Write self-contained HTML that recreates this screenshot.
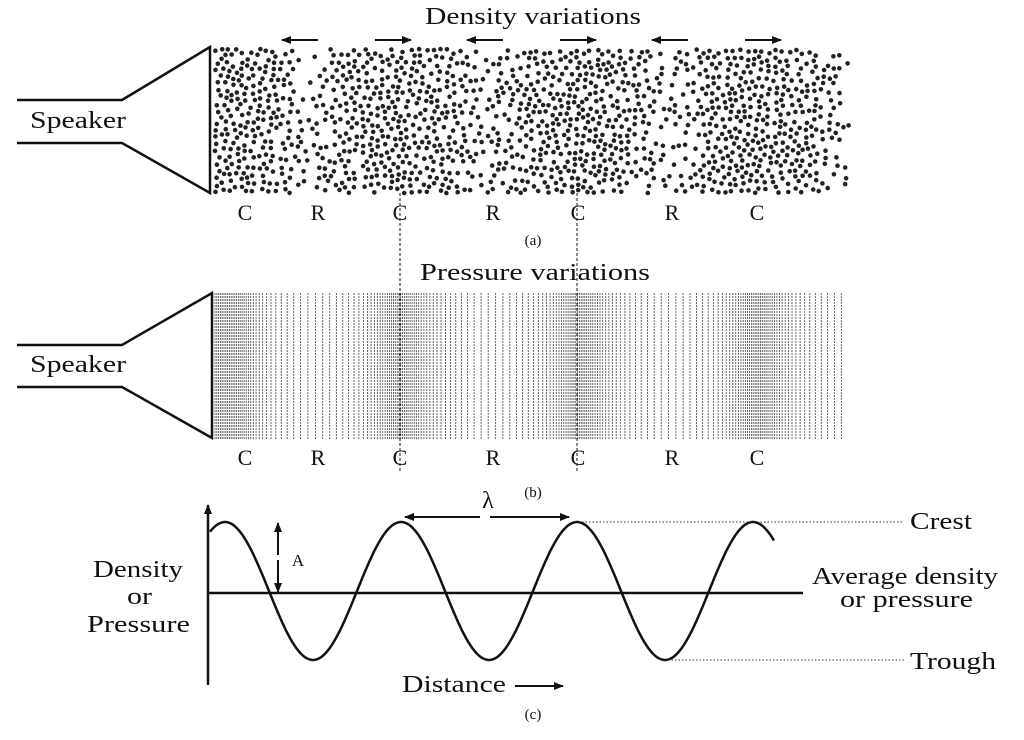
<!DOCTYPE html>
<html><head><meta charset="utf-8"><style>
html,body{margin:0;padding:0;background:#fff;}
svg text{font-family:"Liberation Serif",serif;fill:#111;}
</style></head><body>
<svg id="s" width="1024" height="735" viewBox="0 0 1024 735" xmlns="http://www.w3.org/2000/svg">
<defs>
<marker id="ah" markerWidth="10" markerHeight="8" refX="9" refY="4" orient="auto" markerUnits="userSpaceOnUse">
<path d="M0,0 L10,4 L0,8 z" fill="#111"/></marker>
</defs>
<g stroke="#111" stroke-width="2.5" fill="none">
<polyline points="17,100 122,100 210,47 210,193 122,143 17,143"/>
<polyline points="17,345 122,345 212,293 212,438 122,387 17,387"/>
</g>
<g id="dots" fill="#222"></g>
<g id="lines" stroke="#555" stroke-width="0.9" stroke-dasharray="2,1"></g>
<text x="425" y="24" font-size="24" textLength="216" lengthAdjust="spacingAndGlyphs">Density variations</text>
<g stroke="#111" stroke-width="2">
<line x1="318" y1="40" x2="282" y2="40" marker-end="url(#ah)"/>
<line x1="375" y1="40" x2="411" y2="40" marker-end="url(#ah)"/>
<line x1="503" y1="40" x2="467" y2="40" marker-end="url(#ah)"/>
<line x1="560" y1="40" x2="596" y2="40" marker-end="url(#ah)"/>
<line x1="688" y1="40" x2="652" y2="40" marker-end="url(#ah)"/>
<line x1="745" y1="40" x2="781" y2="40" marker-end="url(#ah)"/>
</g>
<text x="30" y="128" font-size="24" textLength="96" lengthAdjust="spacingAndGlyphs">Speaker</text>
<text x="30" y="372" font-size="24" textLength="96" lengthAdjust="spacingAndGlyphs">Speaker</text>
<g font-size="22" text-anchor="middle">
<text x="245" y="220">C</text><text x="318" y="220">R</text><text x="400" y="220">C</text><text x="493" y="220">R</text><text x="578" y="220">C</text><text x="672" y="220">R</text><text x="757" y="220">C</text>
<text x="245" y="465">C</text><text x="318" y="465">R</text><text x="400" y="465">C</text><text x="493" y="465">R</text><text x="578" y="465">C</text><text x="672" y="465">R</text><text x="757" y="465">C</text>
</g>
<text x="533" y="245" font-size="15" text-anchor="middle">(a)</text>
<text x="420" y="280" font-size="24" textLength="230" lengthAdjust="spacingAndGlyphs">Pressure variations</text>
<text x="533" y="497" font-size="15" text-anchor="middle">(b)</text>
<g stroke="#111" stroke-width="1" stroke-dasharray="3,2">
<line x1="400" y1="193" x2="400" y2="472"/>
<line x1="577" y1="193" x2="577" y2="472"/>
</g>
<g stroke="#111" stroke-width="2.5" fill="none">
<line x1="208" y1="685" x2="208" y2="505" marker-end="url(#ah)"/>
<line x1="208" y1="593" x2="803" y2="593"/>
<path id="wave"/>
</g>
<g stroke="#111" stroke-width="2">
<line x1="480" y1="517" x2="405" y2="517" marker-end="url(#ah)"/>
<line x1="490" y1="517" x2="569" y2="517" marker-end="url(#ah)"/>
<line x1="278" y1="555" x2="278" y2="523" marker-end="url(#ah)"/>
<line x1="278" y1="560" x2="278" y2="592" marker-end="url(#ah)"/>
<line x1="515" y1="686" x2="563" y2="686" marker-end="url(#ah)"/>
</g>
<g stroke="#333" stroke-width="1" stroke-dasharray="1.5,2">
<line x1="575" y1="522" x2="903" y2="522"/>
<line x1="668" y1="660" x2="905" y2="660"/>
</g>
<text x="488" y="508" font-size="24" text-anchor="middle">λ</text>
<text x="298" y="566" font-size="17" text-anchor="middle">A</text>
<text x="910" y="529" font-size="24" textLength="62" lengthAdjust="spacingAndGlyphs">Crest</text>
<text x="910" y="669" font-size="24" textLength="86" lengthAdjust="spacingAndGlyphs">Trough</text>
<text x="812" y="584" font-size="24" textLength="186" lengthAdjust="spacingAndGlyphs">Average density</text>
<text x="840" y="607" font-size="24" textLength="133" lengthAdjust="spacingAndGlyphs">or pressure</text>
<text x="93" y="577" font-size="24" textLength="90" lengthAdjust="spacingAndGlyphs">Density</text>
<text x="127" y="604" font-size="24" textLength="25" lengthAdjust="spacingAndGlyphs">or</text>
<text x="87" y="632" font-size="24" textLength="103" lengthAdjust="spacingAndGlyphs">Pressure</text>
<text x="402" y="692" font-size="24" textLength="104" lengthAdjust="spacingAndGlyphs">Distance</text>
<text x="533" y="719" font-size="15" text-anchor="middle">(c)</text>
</svg>
<script>
(function(){
var NS="http://www.w3.org/2000/svg";
var seed=12345;function rnd(){seed=(seed*1103515245+12345)&0x7fffffff;return seed/0x7fffffff;}
var cs=[235,400,578,757];
function dm(x){var m=0;for(var i=0;i<cs.length;i++){var s=(i==0)?30:38;var g=Math.exp(-Math.pow(x-cs[i],2)/(2*s*s));if(i==0&&x<cs[0])g=1;if(g>m)m=g;}return m;}
function dens(x){return 0.03+0.97*dm(x);}
var pts=[],dg=document.getElementById('dots');
for(var k=0;k<14000;k++){
 var x=215+rnd()*635,y=49+rnd()*144;
 if(rnd()>dens(x))continue;
 var ok=true;for(var j=pts.length-1;j>=0;j--){var dx=pts[j][0]-x,dy=pts[j][1]-y;if(dx*dx+dy*dy<28){ok=false;break;}}
 if(!ok)continue;pts.push([x,y]);
 var c=document.createElementNS(NS,'circle');c.setAttribute('cx',x.toFixed(1));c.setAttribute('cy',y.toFixed(1));c.setAttribute('r','2.3');dg.appendChild(c);
}
var lg=document.getElementById('lines');var x=215;
while(x<844){var l=document.createElementNS(NS,'line');l.setAttribute('x1',x.toFixed(1));l.setAttribute('x2',x.toFixed(1));l.setAttribute('y1','293');l.setAttribute('y2','440');lg.appendChild(l);
 x+=1.8+6*(1-dm(x));}
var d="",P=176,x0=225;
for(var xx=210;xx<=775;xx+=2){var y=591-69*Math.cos(2*Math.PI*(xx-x0)/P);d+=(xx==210?"M":"L")+xx+","+y.toFixed(1);}
document.getElementById('wave').setAttribute('d',d);
})();
</script>
</body></html>
